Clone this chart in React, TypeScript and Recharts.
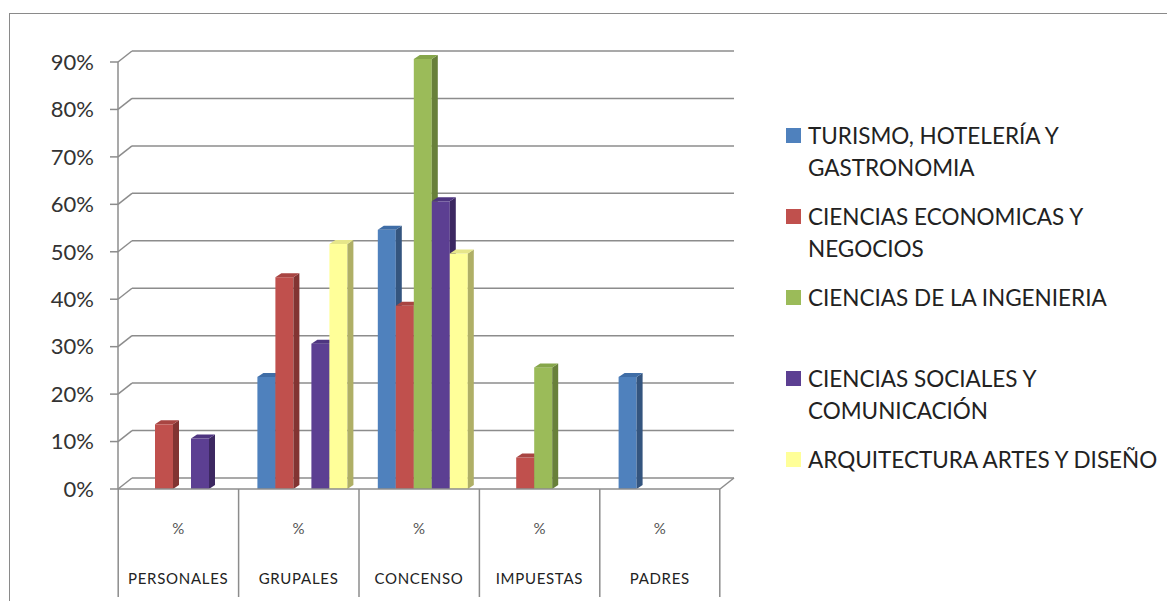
import React from 'react'
import { BarChart, Bar, XAxis, YAxis, CartesianGrid, Legend } from 'recharts'

const categories = ['PERSONALES', 'GRUPALES', 'CONCENSO', 'IMPUESTAS', 'PADRES']

const seriesNames = [
  'TURISMO, HOTELERÍA Y GASTRONOMIA',
  'CIENCIAS ECONOMICAS Y NEGOCIOS',
  'CIENCIAS DE LA INGENIERIA',
  'CIENCIAS SOCIALES Y COMUNICACIÓN',
  'ARQUITECTURA ARTES Y DISEÑO'
]

const turismo = [0, 0.23, 0.54, 0, 0.23]
const economicas = [0.13, 0.44, 0.38, 0.06, 0]
const ingenieria = [0, 0, 0.9, 0.25, 0]
const sociales = [0.1, 0.3, 0.6, 0, 0]
const arquitectura = [0, 0.51, 0.49, 0, 0]

const yTicks = [0, 0.1, 0.2, 0.3, 0.4, 0.5, 0.6, 0.7, 0.8, 0.9]

const seriesValues = [turismo, economicas, ingenieria, sociales, arquitectura]

// face, side, top
const COLORS = [
  ['#4F81BD', '#34557F', '#3F6DA6'],
  ['#C0504D', '#823432', '#A84542'],
  ['#9BBB59', '#68803A', '#86A64A'],
  ['#5C3F92', '#3C2861', '#4E3580'],
  ['#FFFF99', '#AFAF66', '#E6E68A']
]

const data = categories.map((name, i) => {
  const row: Record<string, string | number> = { name }
  seriesNames.forEach((s, j) => {
    row[s] = seriesValues[j][i]
  })
  return row
})

const W = 1159
const H = 593
const LEGEND_W = 400
const MARGIN = { top: 54, right: 47, left: 10, bottom: 0 }
const FLOOR_Y = 481
const DX = 14
const DY = -11
const GRID = '#8c8c8c'
const FONT = 'Lato, "Open Sans", sans-serif'

const makeShape = (idx: number) => (props: any) => {
  const { x, y, width, height } = props
  if (!height || height <= 0) return <g />
  const [face, side, top] = COLORS[idx]
  const sx = x + 5
  const t = y - 3
  const b = y + height
  const d = 6
  const u = 4
  return (
    <g>
      <rect x={sx} y={t} width={width} height={b - t} fill={face} />
      <polygon points={`${sx + width},${t} ${sx + width + d},${t - u} ${sx + width + d},${b - u} ${sx + width},${b}`} fill={side} />
      <polygon points={`${sx},${t} ${sx + d},${t - u} ${sx + width + d},${t - u} ${sx + width},${t}`} fill={top} />
    </g>
  )
}

const gridLine = (props: any) => {
  const { x1, y1, x2, y2 } = props
  const floor = Math.abs(y1 - FLOOR_Y) < 1
  return (
    <g key={`g-${y1}`}>
      <line x1={x1} y1={y1} x2={x1 + DX} y2={y1 + DY} stroke={GRID} strokeWidth={1.5} />
      <line x1={x1 + DX} y1={y1 + DY} x2={x2 + DX} y2={y2 + DY} stroke={GRID} strokeWidth={1.5} />
      {floor && <line x1={x2} y1={y2} x2={x2 + DX} y2={y2 + DY} stroke={GRID} strokeWidth={1.5} />}
    </g>
  )
}

const CategoryTick = (props: any) => {
  const { x, y, payload, index } = props
  const half = 60
  return (
    <g>
      <line x1={x - half} y1={y} x2={x - half} y2={y + 108} stroke={GRID} strokeWidth={1.5} />
      {index === categories.length - 1 && (
        <line x1={x + half} y1={y} x2={x + half} y2={y + 108} stroke={GRID} strokeWidth={1.5} />
      )}
      <text x={x} y={y + 45} textAnchor="middle" fontSize={15} fill="#555" fontFamily={FONT}>
        %
      </text>
      <text x={x} y={y + 95} textAnchor="middle" fontSize={15} fill="#222" fontFamily={FONT} letterSpacing={0.7}>
        {payload.value}
      </text>
    </g>
  )
}

const LegendContent = (props: any) => {
  const items = [...(props.payload || [])].sort(
    (a: any, b: any) => seriesNames.indexOf(a.value) - seriesNames.indexOf(b.value)
  )
  return (
    <div style={{ fontFamily: FONT, fontSize: 22.5, color: '#222', lineHeight: '32px' }}>
      {items.map((p: any) => (
        <div key={p.value} style={{ display: 'flex', alignItems: 'flex-start', height: 81 }}>
          <div style={{ width: 15, height: 15, background: p.color, marginTop: 8, marginRight: 7, flexShrink: 0 }} />
          <div style={{ width: 375 }}>{p.value}</div>
        </div>
      ))}
    </div>
  )
}

export default function App() {
  return (
    <div style={{ position: 'relative', width: W, height: H, overflow: 'hidden' }}>
      <div
        style={{
          position: 'absolute',
          left: 1,
          top: 5,
          width: 1300,
          height: 800,
          border: '1.5px solid #8a8a8a'
        }}
      />
      <div style={{ position: 'absolute', left: 0, top: 0 }}>
        <BarChart width={W} height={H} data={data} margin={MARGIN} barCategoryGap={14} barGap={0}>
          <CartesianGrid vertical={false} horizontal={gridLine} />
          <XAxis
            dataKey="name"
            height={112}
            tickSize={0}
            tickMargin={0}
            axisLine={{ stroke: GRID, strokeWidth: 1.5 }}
            tickLine={false}
            tick={<CategoryTick />}
            interval={0}
          />
          <YAxis
            width={100}
            domain={[0, 0.9]}
            ticks={yTicks}
            tickFormatter={(v) => `${Math.round(v * 100)}%`}
            axisLine={{ stroke: GRID, strokeWidth: 1.5 }}
            tickLine={{ stroke: GRID, strokeWidth: 1.5 }}
            tickSize={8}
            tickMargin={16}
            tick={{ fontSize: 22, fill: '#333', fontFamily: FONT }}
          />
          <Legend
            layout="vertical"
            align="right"
            verticalAlign="top"
            content={<LegendContent />}
            wrapperStyle={{ left: 778, top: 112, width: LEGEND_W }}
          />
          {seriesNames.map((s, i) => (
            <Bar key={s} dataKey={s} fill={COLORS[i][0]} shape={makeShape(i)} isAnimationActive={false} />
          ))}
        </BarChart>
      </div>
    </div>
  )
}
